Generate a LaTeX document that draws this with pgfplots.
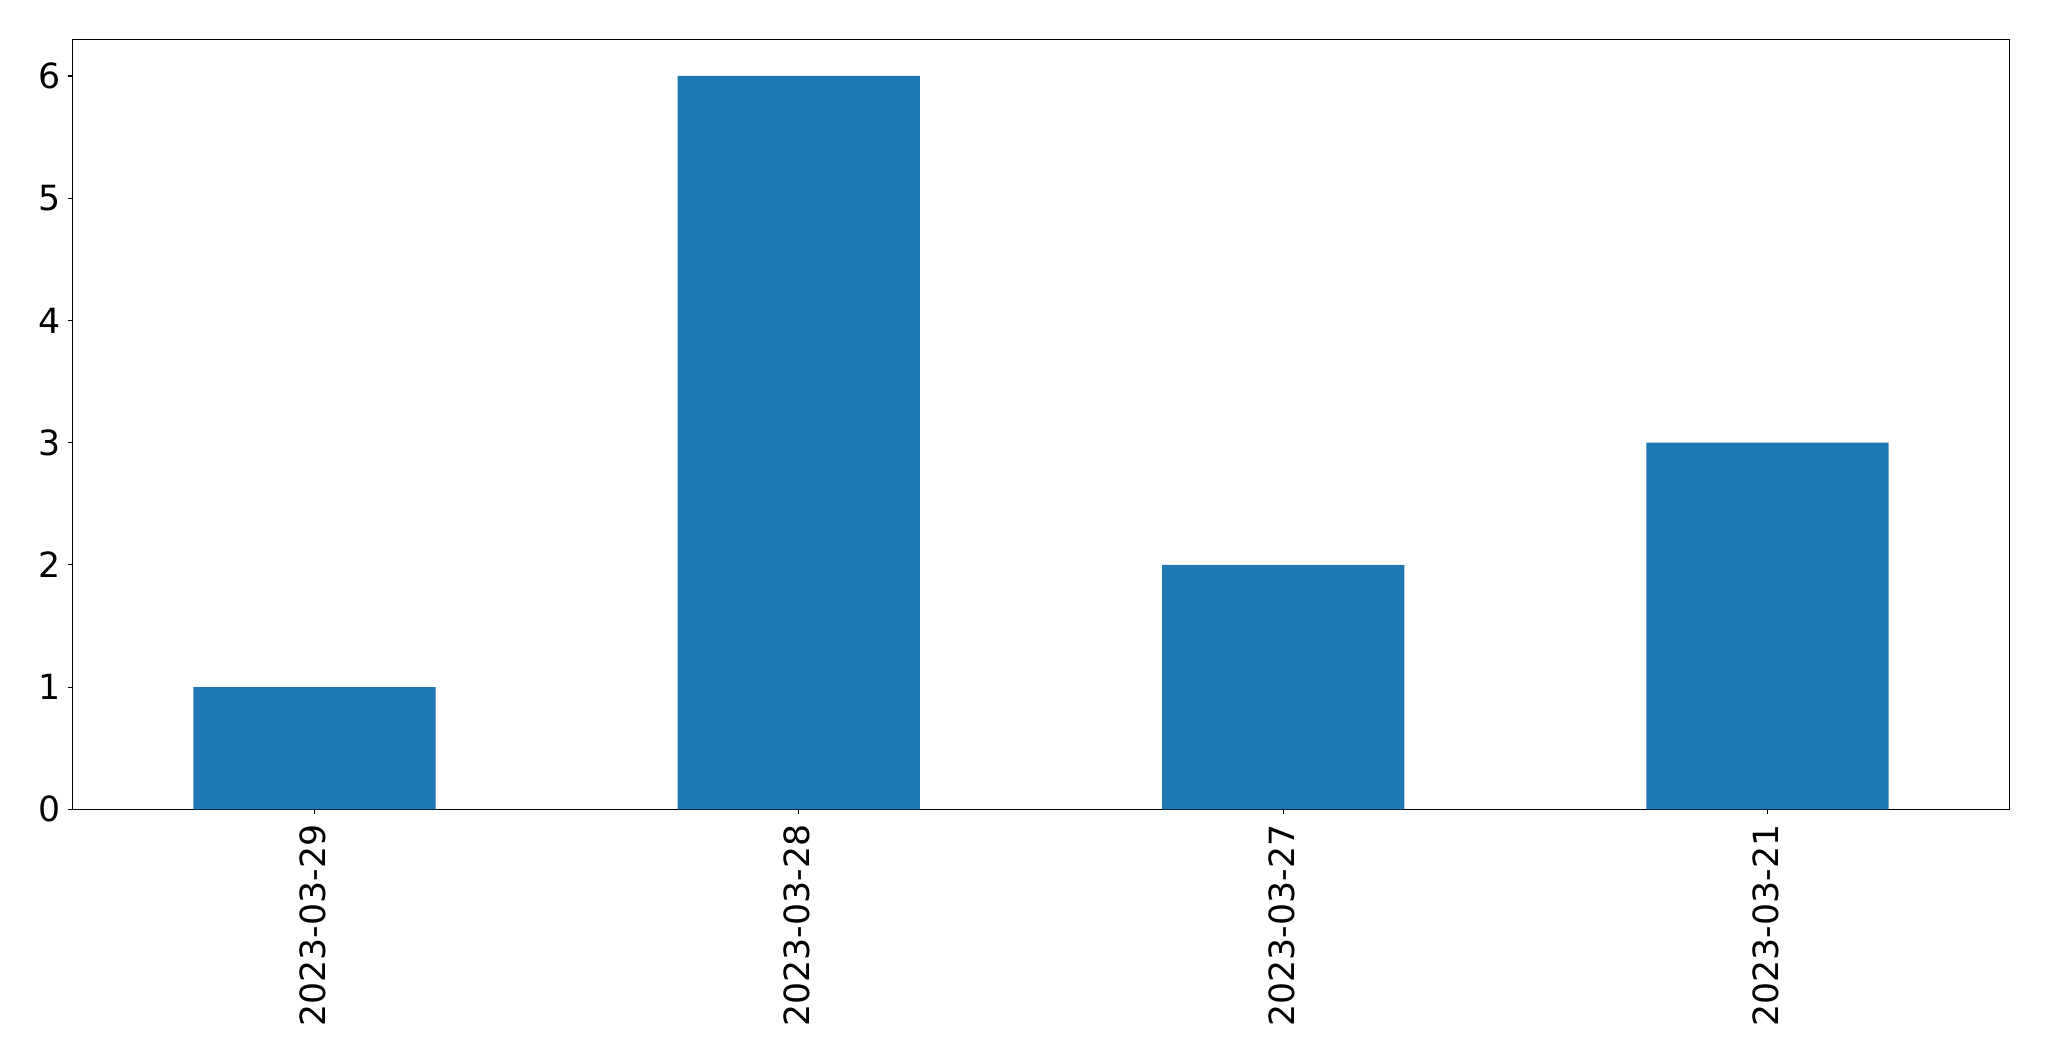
\documentclass[border=0pt]{standalone}
\usepackage{fontspec}
\setmainfont{DejaVu Sans}
\usepackage{pgfplots}
\pgfplotsset{compat=1.18}
\definecolor{mplblue}{HTML}{1F77B4}
\begin{document}
\begin{tikzpicture}[x=1pt,y=1pt]
\path[use as bounding box] (0,0) rectangle (2049,1061);
\begin{axis}[
  at={(72.3pt,251.7pt)}, anchor=south west,
  scale only axis, width=1937.4pt, height=770pt,
  xmin=-0.5, xmax=3.5, ymin=0, ymax=6.3,
  xtick={0,1,2,3},
  xticklabels={2023-03-29,2023-03-28,2023-03-27,2023-03-21},
  ytick={0,1,2,3,4,5,6},
  xtick pos=bottom, ytick pos=left,
  tick align=outside, major tick length=4.7pt,
  tick style={black, line width=1.1pt},
  axis line style={black, line width=1.1pt},
  /pgf/number format/assume math mode=true,
  tick label style={font=\fontsize{34.7}{42}\selectfont},
  yticklabel style={anchor=east, inner sep=0pt, xshift=-6.5pt},
  xticklabel style={rotate=90, anchor=east, inner sep=0pt, xshift=-10.5pt, yshift=1.8pt},
  ybar, bar width=0.5,
]
\addplot[fill=mplblue, draw=none] coordinates {(0,1) (1,6) (2,2) (3,3)};
\end{axis}
\end{tikzpicture}
\end{document}
